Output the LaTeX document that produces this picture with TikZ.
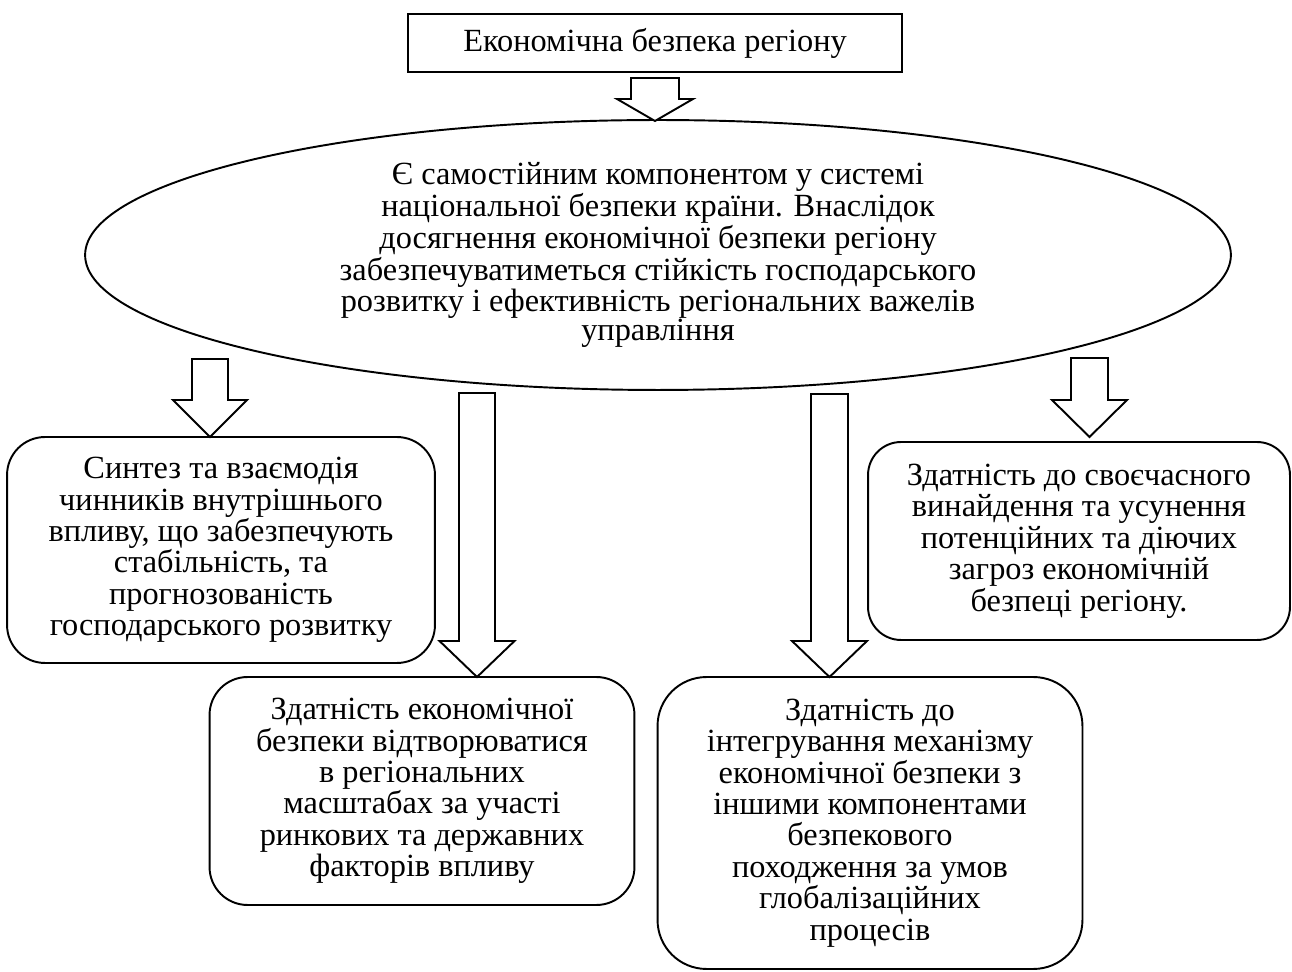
\documentclass[tikz,border=0pt]{standalone}
\usepackage{fontspec}
\setmainfont{Liberation Serif}
\usetikzlibrary{shapes.geometric}

\begin{document}
\begin{tikzpicture}[
    x=0.02cm, y=-0.02cm,
    line width=1.1pt,
    every node/.style={font=\fontsize{18.4}{17.9}\selectfont, align=center, inner sep=0pt},
    topbox/.style={rectangle, draw, minimum width=9.88cm, minimum height=1.16cm},
    mainoval/.style={ellipse, draw, minimum width=22.92cm, minimum height=5.4cm,
                     font=\fontsize{18.4}{16.6}\selectfont},
    featbox/.style={rectangle, draw, rounded corners=0.76cm},
    blockarrow/.style={draw, fill=white, line join=miter}
]
    \useasboundingbox (0,0) rectangle (1292,972);

    % Title and main statement
    \node [topbox] (topic) at (655,43) {Економічна безпека регіону};
    \node [mainoval] (security) at (658,255) {Є самостійним компонентом у системі\\
        національної безпеки країни. Внаслідок\\
        досягнення економічної безпеки регіону\\
        забезпечуватиметься стійкість господарського\\
        розвитку і ефективність регіональних важелів\\
        управління};

    % Features of regional economic security
    \node [featbox, minimum width=8.56cm, minimum height=4.52cm] (synthesis) at (221,550)
        {Синтез та взаємодія\\ чинників внутрішнього\\ впливу, що забезпечують\\
         стабільність, та\\ прогнозованість\\ господарського розвитку};
    \node [featbox, minimum width=8.5cm, minimum height=4.56cm] (reproduce) at (422,791)
        {Здатність економічної\\ безпеки відтворюватися\\ в регіональних\\
         масштабах за участі\\ ринкових та державних\\ факторів впливу};
    \node [featbox, rounded corners=0.98cm, minimum width=8.5cm, minimum height=5.84cm] (integrate) at (870,823)
        {Здатність до\\ інтегрування механізму\\ економічної безпеки з\\ іншими компонентами\\
         безпекового\\ походження за умов\\ глобалізаційних\\ процесів};
    \node [featbox, rounded corners=0.66cm, minimum width=8.44cm, minimum height=3.96cm] (threats) at (1079,541)
        {Здатність до своєчасного\\ винайдення та усунення\\ потенційних та діючих\\
         загроз економічній\\ безпеці регіону.};

    % Block arrows
    \foreach \cx/\ytop/\yhead/\ytip/\sw/\hw in {655/78/99/121/24/38,
                                              210/359/400/437/18/37,
                                              477/393/641/677/18/37.5,
                                              829.5/394/641/677/18.5/37.5,
                                              1089.5/358/400/437/18.5/37.5}
        \draw [blockarrow] (\cx-\sw,\ytop) -- (\cx+\sw,\ytop) -- (\cx+\sw,\yhead)
            -- (\cx+\hw,\yhead) -- (\cx,\ytip) -- (\cx-\hw,\yhead) -- (\cx-\sw,\yhead) -- cycle;
\end{tikzpicture}
\end{document}
